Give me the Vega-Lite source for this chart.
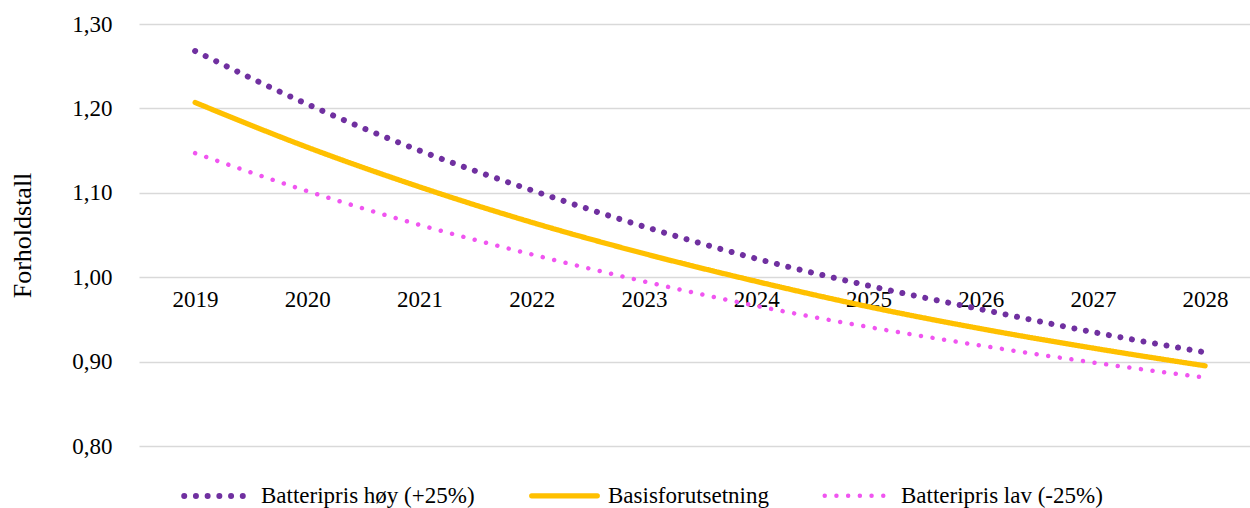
{
  "$schema": "https://vega.github.io/schema/vega-lite/v6.json",
  "width": 1111,
  "height": 422,
  "autosize": {"type": "none"},
  "padding": {"left": 139, "top": 24, "right": 0, "bottom": 62},
  "background": "white",
  "config": {
    "view": {"stroke": null},
    "font": "Liberation Serif"
  },
  "data": {
    "values": [
      {"year": 2019, "series": "Batteripris høy (+25%)", "value": 1.268},
      {"year": 2020, "series": "Batteripris høy (+25%)", "value": 1.205},
      {"year": 2021, "series": "Batteripris høy (+25%)", "value": 1.150},
      {"year": 2022, "series": "Batteripris høy (+25%)", "value": 1.103},
      {"year": 2023, "series": "Batteripris høy (+25%)", "value": 1.060},
      {"year": 2024, "series": "Batteripris høy (+25%)", "value": 1.022},
      {"year": 2025, "series": "Batteripris høy (+25%)", "value": 0.990},
      {"year": 2026, "series": "Batteripris høy (+25%)", "value": 0.962},
      {"year": 2027, "series": "Batteripris høy (+25%)", "value": 0.935},
      {"year": 2028, "series": "Batteripris høy (+25%)", "value": 0.911},
      {"year": 2019, "series": "Basisforutsetning", "value": 1.207},
      {"year": 2020, "series": "Basisforutsetning", "value": 1.154},
      {"year": 2021, "series": "Basisforutsetning", "value": 1.107},
      {"year": 2022, "series": "Basisforutsetning", "value": 1.065},
      {"year": 2023, "series": "Basisforutsetning", "value": 1.028},
      {"year": 2024, "series": "Basisforutsetning", "value": 0.995},
      {"year": 2025, "series": "Basisforutsetning", "value": 0.965},
      {"year": 2026, "series": "Basisforutsetning", "value": 0.939},
      {"year": 2027, "series": "Basisforutsetning", "value": 0.916},
      {"year": 2028, "series": "Basisforutsetning", "value": 0.895},
      {"year": 2019, "series": "Batteripris lav (-25%)", "value": 1.147},
      {"year": 2020, "series": "Batteripris lav (-25%)", "value": 1.102},
      {"year": 2021, "series": "Batteripris lav (-25%)", "value": 1.062},
      {"year": 2022, "series": "Batteripris lav (-25%)", "value": 1.027},
      {"year": 2023, "series": "Batteripris lav (-25%)", "value": 0.995},
      {"year": 2024, "series": "Batteripris lav (-25%)", "value": 0.966},
      {"year": 2025, "series": "Batteripris lav (-25%)", "value": 0.941},
      {"year": 2026, "series": "Batteripris lav (-25%)", "value": 0.919},
      {"year": 2027, "series": "Batteripris lav (-25%)", "value": 0.899},
      {"year": 2028, "series": "Batteripris lav (-25%)", "value": 0.881}
    ]
  },
  "mark": {"type": "line", "interpolate": "monotone", "strokeCap": "round"},
  "encoding": {
    "x": {
      "field": "year",
      "type": "quantitative",
      "scale": {"domain": [2018.5, 2028.4], "nice": false, "zero": false},
      "axis": {
        "values": [2019, 2020, 2021, 2022, 2023, 2024, 2025, 2026, 2027, 2028],
        "format": "d",
        "title": null,
        "grid": false,
        "domain": false,
        "ticks": false,
        "tickSize": 0,
        "offset": -169,
        "labelPadding": 11,
        "labelFontSize": 23,
        "labelColor": "#000000",
        "labelFont": "Liberation Serif"
      }
    },
    "y": {
      "field": "value",
      "type": "quantitative",
      "scale": {"domain": [0.8, 1.3], "nice": false, "zero": false},
      "axis": {
        "values": [0.8, 0.9, 1.0, 1.1, 1.2, 1.3],
        "labelExpr": "replace(format(datum.value, '.2f'), '.', ',')",
        "title": "Forholdstall",
        "titleFontSize": 26,
        "titleFontWeight": "normal",
        "titleFont": "Liberation Serif",
        "titleColor": "#000000",
        "titlePadding": 36,
        "grid": true,
        "gridColor": "#d9d9d9",
        "gridWidth": 1.5,
        "domain": false,
        "ticks": false,
        "tickSize": 0,
        "labelPadding": 27,
        "labelFontSize": 23,
        "labelColor": "#000000",
        "labelFont": "Liberation Serif"
      }
    },
    "color": {
      "field": "series",
      "type": "nominal",
      "sort": ["Batteripris høy (+25%)", "Basisforutsetning", "Batteripris lav (-25%)"],
      "scale": {
        "domain": ["Batteripris høy (+25%)", "Basisforutsetning", "Batteripris lav (-25%)"],
        "range": ["#7030a0", "#ffc000", "#f055f0"]
      },
      "legend": {
        "orient": "none",
        "legendX": 42,
        "legendY": 436,
        "direction": "horizontal",
        "title": null,
        "symbolType": "stroke",
        "symbolSize": 4300,
        "labelFontSize": 23,
        "labelFont": "Liberation Serif",
        "labelColor": "#000000",
        "labelLimit": 500,
        "labelOffset": 8,
        "columnPadding": 46,
        "symbolStrokeWidth": 5.5,
        "encode": {"symbols": {"update": {"strokeCap": {"value": "round"}}}}
      }
    },
    "strokeDash": {
      "field": "series",
      "type": "nominal",
      "sort": ["Batteripris høy (+25%)", "Basisforutsetning", "Batteripris lav (-25%)"],
      "scale": {
        "domain": ["Batteripris høy (+25%)", "Basisforutsetning", "Batteripris lav (-25%)"],
        "range": [[0.01, 11.7], [1, 0], [0.01, 11.7]]
      }
    },
    "strokeWidth": {
      "field": "series",
      "type": "nominal",
      "scale": {
        "domain": ["Batteripris høy (+25%)", "Basisforutsetning", "Batteripris lav (-25%)"],
        "range": [6, 4.5, 6]
      },
      "legend": null
    }
  }
}
